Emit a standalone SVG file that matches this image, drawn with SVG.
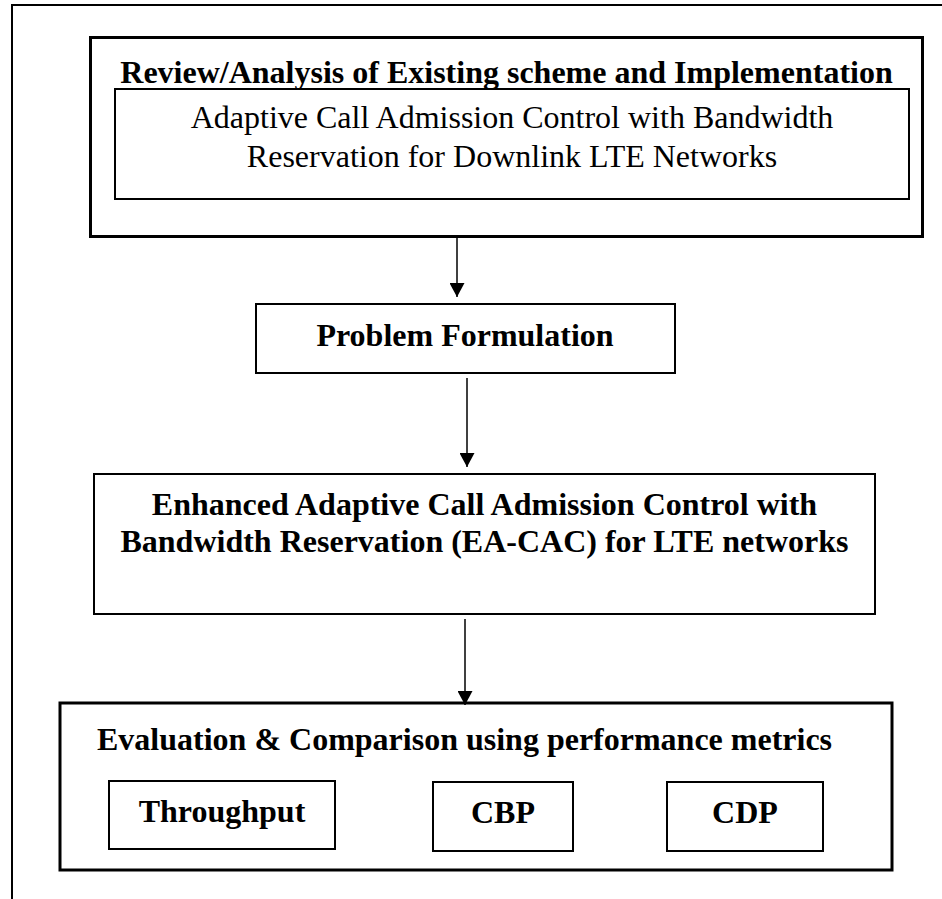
<svg xmlns="http://www.w3.org/2000/svg" width="942" height="899" viewBox="0 0 942 899">
<style>
.box{fill:#fff;stroke:#000;stroke-width:2}
.thick{stroke-width:3}
.b{font-family:"Liberation Serif","Times New Roman",serif;font-weight:bold;font-size:32px;fill:#000}
.r{font-family:"Liberation Serif","Times New Roman",serif;font-size:32px;fill:#000}
.conn{stroke:#000;stroke-width:1.5;fill:none}
</style>
<defs>
<marker id="ah" viewBox="0 0 14 15" refX="14" refY="7.5" markerWidth="14" markerHeight="15" markerUnits="userSpaceOnUse" orient="auto">
<path d="M0,0 L14,7.5 L0,15 z" fill="#000"/>
</marker>
</defs>
<rect width="942" height="899" fill="#fff"/>
<g id="frame">
<path d="M12,899 V5 H942" fill="none" stroke="#000" stroke-width="2"/>
</g>
<g id="review">
<rect class="box thick" x="90.5" y="37.5" width="832" height="199"/>
<text class="b" x="506.5" y="83" text-anchor="middle">Review/Analysis of Existing scheme and Implementation</text>
</g>
<g id="existing">
<rect class="box" x="115" y="89" width="794" height="110"/>
<text class="r" x="512" y="128" text-anchor="middle">Adaptive Call Admission Control with Bandwidth</text>
<text class="r" x="512" y="167" text-anchor="middle">Reservation for Downlink LTE Networks</text>
</g>
<g id="problem">
<rect class="box" x="256" y="304" width="419" height="69"/>
<text class="b" x="465" y="346" text-anchor="middle">Problem Formulation</text>
</g>
<g id="eacac">
<rect class="box" x="94" y="474" width="781" height="140"/>
<text class="b" x="484.5" y="515" text-anchor="middle">Enhanced Adaptive Call Admission Control with</text>
<text class="b" x="484.5" y="552" text-anchor="middle">Bandwidth Reservation (EA-CAC) for LTE networks</text>
</g>
<g id="evaluation">
<rect class="box thick" x="60" y="703" width="832" height="167"/>
<text class="b" x="97" y="750">Evaluation &amp; Comparison using performance metrics</text>
</g>
<g id="throughput">
<rect class="box" x="109" y="781" width="226" height="68"/>
<text class="b" x="222" y="822" text-anchor="middle">Throughput</text>
</g>
<g id="cbp">
<rect class="box" x="433" y="782" width="140" height="69"/>
<text class="b" x="503" y="823" text-anchor="middle">CBP</text>
</g>
<g id="cdp">
<rect class="box" x="667" y="782" width="156" height="69"/>
<text class="b" x="745" y="823" text-anchor="middle">CDP</text>
</g>
<g id="connectors">
<line class="conn" x1="457" y1="237" x2="457" y2="297" marker-end="url(#ah)"/>
<line class="conn" x1="467" y1="378" x2="467" y2="467" marker-end="url(#ah)"/>
<line class="conn" x1="465" y1="619" x2="465" y2="705" marker-end="url(#ah)"/>
</g>
</svg>
